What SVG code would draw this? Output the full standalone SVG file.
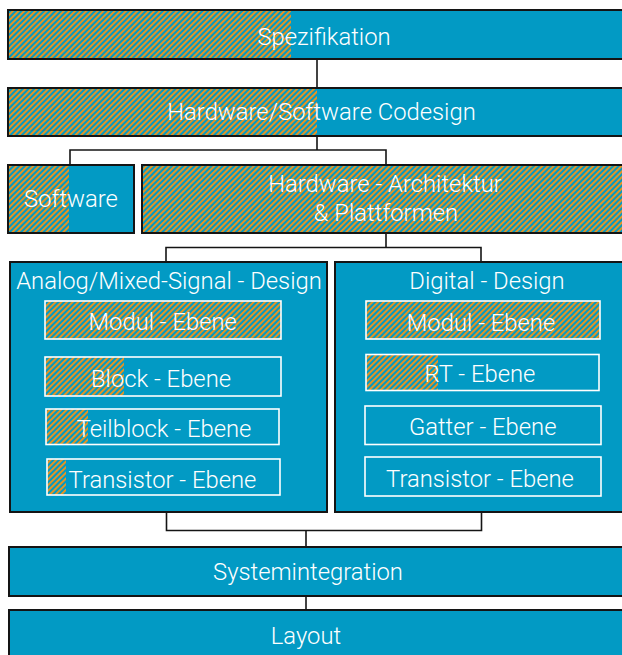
<svg xmlns="http://www.w3.org/2000/svg" width="622" height="655" viewBox="0 0 622 655">
  <style>
    .base { fill: #029ac4; }
    .hatch { fill: url(#stripes); }
    .frame { fill: none; stroke: #141414; stroke-width: 2; }
    .inner { fill: none; stroke: #ffffff; stroke-width: 1.6; }
    .lbl { font-family: Roboto, "Liberation Sans", sans-serif; font-weight: 300; font-size: 23.8px; fill: #ffffff; text-anchor: middle; }
    .wire { fill: none; stroke: #141414; stroke-width: 1.6; }
  </style>
  <defs>
    <!-- diagonal orange/blue stripes marking the covered share of each level -->
    <pattern id="stripes" patternUnits="userSpaceOnUse" width="4" height="4" patternTransform="rotate(45)">
      <rect width="4" height="4" fill="#029ac4"/>
      <rect width="1.9" height="4" fill="#f0931a"/>
    </pattern>
  </defs>

  <!-- connectors -->
  <g id="connectors">
    <path class="wire" d="M317 59 V88"/>
    <path class="wire" d="M317 136 V150 M70 165 V150 H386 V165"/>
    <path class="wire" d="M386 233 V247.5 M166 262 V247.5 H481 V262"/>
    <path class="wire" d="M166.5 512 V530.5 H481.5 V512 M306 530.5 V547"/>
    <path class="wire" d="M306 596 V610"/>
  </g>

  <g id="spezifikation">
    <rect class="base" x="8" y="10" width="640" height="49"/>
    <rect class="hatch" x="8" y="10" width="283" height="49"/>
    <rect class="frame" x="8" y="10" width="640" height="49"/>
    <text class="lbl" x="324" y="44.5">Spezifikation</text>
  </g>

  <g id="codesign">
    <rect class="base" x="8" y="88" width="640" height="48"/>
    <rect class="hatch" x="8" y="88" width="309" height="48"/>
    <rect class="frame" x="8" y="88" width="640" height="48"/>
    <text class="lbl" x="321.5" y="120">Hardware/Software Codesign</text>
  </g>

  <g id="software">
    <rect class="base" x="8" y="165" width="126" height="68"/>
    <rect class="hatch" x="8" y="165" width="61" height="68"/>
    <rect class="frame" x="8" y="165" width="126" height="68"/>
    <text class="lbl" x="71" y="207">Software</text>
  </g>

  <g id="hw-architektur">
    <rect class="hatch" x="142" y="165" width="500" height="68"/>
    <rect class="frame" x="142" y="165" width="500" height="68"/>
    <text class="lbl" x="385" y="192">Hardware - Architektur</text>
    <text class="lbl" x="386" y="220.5">&amp; Plattformen</text>
  </g>

  <g id="analog-design">
    <rect class="base" x="10" y="262" width="317" height="250"/>
    <rect class="frame" x="10" y="262" width="317" height="250"/>
    <text class="lbl" x="169" y="288.5">Analog/Mixed-Signal - Design</text>
  </g>
  <g id="analog-modul">
    <rect class="hatch" x="45" y="301" width="236" height="38"/>
    <rect class="inner" x="45" y="301" width="236" height="38"/>
    <text class="lbl" x="162.7" y="330">Modul - Ebene</text>
  </g>
  <g id="analog-block">
    <rect class="hatch" x="45" y="357" width="79" height="39"/>
    <rect class="inner" x="45" y="357" width="236" height="39"/>
    <text class="lbl" x="161" y="386.5">Block - Ebene</text>
  </g>
  <g id="analog-teilblock">
    <rect class="hatch" x="46" y="409" width="42" height="35.5"/>
    <rect class="inner" x="46" y="409" width="233" height="35.5"/>
    <text class="lbl" x="164" y="436.5">Teilblock - Ebene</text>
  </g>
  <g id="analog-transistor">
    <rect class="hatch" x="47" y="459" width="19" height="36"/>
    <rect class="inner" x="47" y="459" width="233" height="36"/>
    <text class="lbl" x="162.5" y="487.5">Transistor - Ebene</text>
  </g>

  <g id="digital-design">
    <rect class="base" x="335" y="262" width="300" height="250"/>
    <rect class="frame" x="335" y="262" width="300" height="250"/>
    <text class="lbl" x="487" y="288.5">Digital - Design</text>
  </g>
  <g id="digital-modul">
    <rect class="hatch" x="366" y="301" width="234" height="38"/>
    <rect class="inner" x="366" y="301" width="234" height="38"/>
    <text class="lbl" x="481" y="330.5">Modul - Ebene</text>
  </g>
  <g id="digital-rt">
    <rect class="hatch" x="366" y="354.5" width="72" height="36"/>
    <rect class="inner" x="366" y="354.5" width="233" height="36"/>
    <text class="lbl" x="480" y="382">RT - Ebene</text>
  </g>
  <g id="digital-gatter">
    <rect class="inner" x="365" y="406" width="236" height="38.5"/>
    <text class="lbl" x="482.7" y="435">Gatter - Ebene</text>
  </g>
  <g id="digital-transistor">
    <rect class="inner" x="365" y="457" width="236" height="39"/>
    <text class="lbl" x="480" y="486.5">Transistor - Ebene</text>
  </g>

  <g id="systemintegration">
    <rect class="base" x="9" y="547" width="640" height="49"/>
    <rect class="frame" x="9" y="547" width="640" height="49"/>
    <text class="lbl" x="308" y="579.5">Systemintegration</text>
  </g>

  <g id="layout">
    <rect class="base" x="9" y="610" width="640" height="60"/>
    <rect class="frame" x="9" y="610" width="640" height="60"/>
    <text class="lbl" x="306" y="643.5">Layout</text>
  </g>
</svg>
